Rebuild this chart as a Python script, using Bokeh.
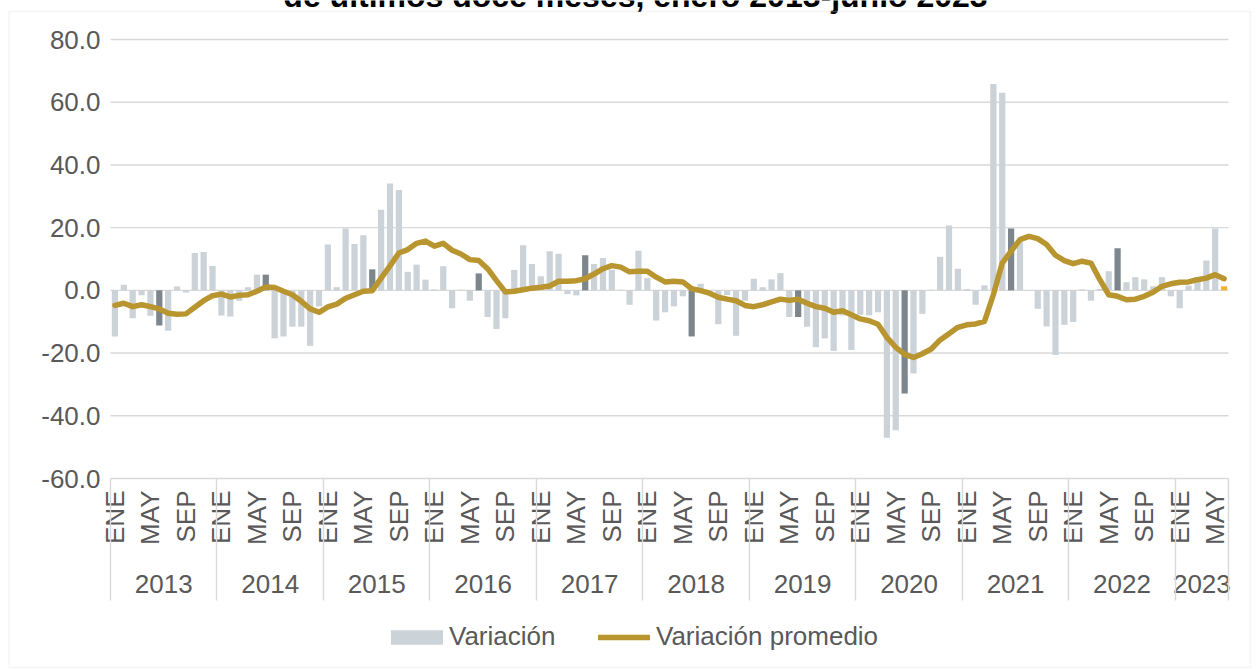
import math
from bokeh.plotting import figure
from bokeh.models import (LinearAxis, FixedTicker, PrintfTickFormatter, Legend, LegendItem,
                          BoxAnnotation, ColumnDataSource, Range1d)
from bokeh.core.properties import value
from bokeh.embed import file_html
from bokeh.resources import INLINE

# ---------------- data ----------------
years = [2013, 2014, 2015, 2016, 2017, 2018, 2019, 2020, 2021, 2022, 2023]
month_abbr = ["ENE", "FEB", "MAR", "ABR", "MAY", "JUN", "JUL", "AGO", "SEP", "OCT", "NOV", "DIC"]
shown_months = ["ENE", "MAY", "SEP"]

variacion_2013 = [-14.7, 1.8, -8.9, -1.6, -8.1, -11.2, -12.9, 1.2, -0.7, 11.9, 12.2, 7.8]
variacion_2014 = [-8.0, -8.3, -3.3, 1.0, 5.0, 5.0, -15.3, -14.7, -11.6, -11.6, -17.7, -5.1]
variacion_2015 = [14.6, 1.0, 19.7, 14.8, 17.6, 6.7, 25.7, 34.1, 32.0, 5.9, 8.2, 3.4]
variacion_2016 = [0.3, 7.7, -5.7, 0.2, -3.3, 5.4, -8.5, -12.3, -8.9, 6.5, 14.4, 8.4]
variacion_2017 = [4.5, 12.5, 11.7, -1.2, -1.6, 11.2, 8.4, 10.3, 6.6, 0.2, -4.6, 12.6]
variacion_2018 = [3.9, -9.6, -7.0, -5.1, -1.9, -14.7, 2.1, -1.0, -10.8, -1.5, -14.5, -3.3]
variacion_2019 = [3.7, 1.0, 3.5, 5.5, -8.5, -8.5, -11.6, -18.1, -15.3, -19.3, -8.0, -19.0]
variacion_2020 = [-7.8, -8.0, -7.0, -47.0, -44.6, -32.9, -26.5, -7.5, 0.2, 10.7, 20.7, 6.9]
variacion_2021 = [0.4, -4.6, 1.6, 65.8, 63.0, 19.7, 15.5, 0.1, -5.9, -11.5, -20.6, -11.0]
variacion_2022 = [-10.1, 0.3, -3.3, 0.5, 6.1, 13.4, 2.6, 4.2, 3.5, 1.3, 4.2, -1.9]
variacion_2023 = [-5.7, 1.5, 4.2, 9.5, 19.7, 1.3]

promedio_2013 = [-4.8, -4.1, -5.2, -4.6, -5.2, -5.9, -7.3, -7.6, -7.5, -5.4, -3.3, -1.7]
promedio_2014 = [-1.2, -2.1, -1.6, -1.4, -0.3, 1.1, 0.9, -0.3, -1.4, -3.5, -5.9, -7.0]
promedio_2015 = [-5.3, -4.4, -2.5, -1.4, -0.3, -0.1, 3.9, 7.8, 11.9, 13.0, 15.0, 15.7]
promedio_2016 = [14.1, 15.0, 12.8, 11.6, 9.8, 9.5, 6.9, 3.1, -0.5, -0.3, 0.2, 0.7]
promedio_2017 = [1.0, 1.4, 2.9, 2.9, 3.1, 3.7, 5.2, 6.9, 7.9, 7.4, 5.9, 6.1]
promedio_2018 = [6.1, 4.2, 2.7, 2.9, 2.7, 0.5, -0.1, -0.9, -2.2, -2.8, -3.3, -4.8]
promedio_2019 = [-5.2, -4.6, -3.7, -2.8, -3.2, -2.8, -4.1, -5.2, -5.7, -7.0, -6.5, -7.8]
promedio_2020 = [-9.1, -9.7, -10.8, -15.0, -18.2, -20.4, -21.4, -20.2, -18.7, -15.8, -13.8, -11.8]
promedio_2021 = [-11.0, -10.7, -9.9, -1.4, 8.7, 12.5, 16.2, 17.2, 16.5, 14.6, 11.2, 9.5]
promedio_2022 = [8.5, 9.3, 8.7, 3.4, -1.4, -1.9, -3.0, -2.8, -1.9, -0.6, 1.3, 2.1]
promedio_2023 = [2.6, 2.7, 3.4, 3.9, 5.0, 3.7]

variacion = (variacion_2013 + variacion_2014 + variacion_2015 + variacion_2016 + variacion_2017 +
             variacion_2018 + variacion_2019 + variacion_2020 + variacion_2021 + variacion_2022 +
             variacion_2023)
promedio = (promedio_2013 + promedio_2014 + promedio_2015 + promedio_2016 + promedio_2017 +
            promedio_2018 + promedio_2019 + promedio_2020 + promedio_2021 + promedio_2022 +
            promedio_2023)

y_ticks = [-60, -40, -20, 0, 20, 40, 60, 80]
title_text = "de últimos doce meses, enero 2013-junio 2023"

# ---------------- derived ----------------
n = len(variacion)
months = [(y, m) for y in years for m in month_abbr][:n]
xs = [i + 0.5 for i in range(n)]

LIGHT = "#cbd2d8"
DARK = "#7c868c"
LAST = "#f7b131"
LINE = "#b8952f"
TXT = "#595959"
GRID = "#d9d9d9"
FONT = "Liberation Sans"

colors = []
for i, (yy, mm) in enumerate(months):
    if i == n - 1:
        colors.append(LAST)
    elif mm == "JUN":
        colors.append(DARK)
    else:
        colors.append(LIGHT)

src = ColumnDataSource(dict(x=xs, top=variacion, color=colors, prom=promedio))

# ---------------- geometry (pixels of the page) ----------------
W, H = 1256, 668
PLOT_L, PLOT_R, PLOT_T, PLOT_B = 110, 1228, 39, 478
y_lo, y_hi = min(y_ticks), max(y_ticks)
PX_X = (PLOT_R - PLOT_L) / float(n)
PX_Y = (PLOT_B - PLOT_T) / float(y_hi - y_lo)


def dx(px):
    return (px - PLOT_L) / PX_X


def dy(py):
    return y_hi - (py - PLOT_T) / PX_Y


# the frame covers the whole canvas so that everything outside the plot box can be drawn
p = figure(width=W, height=H, output_backend="svg", toolbar_location=None,
           x_range=Range1d(dx(0), dx(W)), y_range=Range1d(dy(H), dy(0)),
           x_axis_location=None, y_axis_location=None, min_border=0)
p.outline_line_color = None
p.background_fill_color = "white"
p.border_fill_color = "white"
p.xgrid.visible = False
p.ygrid.visible = False

# horizontal gridlines across the plot box
p.segment(x0=[0] * len(y_ticks), x1=[n] * len(y_ticks), y0=y_ticks, y1=y_ticks,
          line_color=GRID, line_width=1.4)

bars = p.vbar(x="x", top="top", bottom=0, width=0.7, fill_color="color", line_color=None, source=src)
line = p.line(x="x", y="prom", line_width=5.5, line_color=LINE, line_join="round",
              line_cap="round", source=src)

# y axis
y_axis = LinearAxis(ticker=FixedTicker(ticks=y_ticks, minor_ticks=[]), fixed_location=0,
                    bounds=(y_lo, y_hi),
                    formatter=PrintfTickFormatter(format="%.1f"),
                    major_label_standoff=10,
                    major_tick_in=0, major_tick_out=0, major_tick_line_color=None,
                    minor_tick_line_color=None, axis_line_color=None,
                    major_label_text_font=FONT, major_label_text_font_size="26px",
                    major_label_text_color=TXT)
p.add_layout(y_axis, "left")

# month axis, year axis, year separators
month_ticks = [xs[i] for i, (yy, mm) in enumerate(months) if mm in shown_months]
month_over = {xs[i]: mm for i, (yy, mm) in enumerate(months) if mm in shown_months}
year_bounds = []
year_centers = []
year_over = {}
for yy in years:
    idx = [i for i, (a, b) in enumerate(months) if a == yy]
    year_bounds.append(idx[0])
    c = (idx[0] + idx[-1] + 1) / 2
    year_centers.append(c)
    year_over[c] = str(yy)
year_bounds.append(n)

month_axis = LinearAxis(ticker=FixedTicker(ticks=month_ticks, minor_ticks=[]),
                        fixed_location=y_lo, bounds=(0, n),
                        major_label_overrides=month_over,
                        major_label_orientation=math.pi / 2,
                        major_label_standoff=12,
                        major_tick_in=0, major_tick_out=0, major_tick_line_color=None,
                        minor_tick_line_color=None, axis_line_color=None,
                        major_label_text_font=FONT, major_label_text_font_size="26px",
                        major_label_text_color=TXT)
p.add_layout(month_axis, "below")

year_axis = LinearAxis(ticker=FixedTicker(ticks=year_centers, minor_ticks=[]),
                       fixed_location=y_lo, bounds=(0, n),
                       major_label_overrides=year_over,
                       major_label_standoff=96,
                       major_tick_in=0, major_tick_out=0, major_tick_line_color=None,
                       minor_tick_line_color=None, axis_line_color=None,
                       major_label_text_font=FONT, major_label_text_font_size="26px",
                       major_label_text_color=TXT)
p.add_layout(year_axis, "below")

sep_axis = LinearAxis(ticker=FixedTicker(ticks=year_bounds, minor_ticks=[]),
                      fixed_location=y_lo, bounds=(0, n),
                      major_label_overrides={b: "" for b in year_bounds},
                      major_tick_in=0, major_tick_out=122,
                      major_tick_line_color=GRID, major_tick_line_width=1.4,
                      minor_tick_line_color=None, axis_line_color=None,
                      major_label_text_alpha=0)
p.add_layout(sep_axis, "below")

# legend (two parts so that the box and the line get their own widths)
legend_style = dict(orientation="horizontal", padding=0, margin=0,
                    label_text_font=FONT, label_text_font_size="26px", label_text_color=TXT,
                    border_line_color=None, background_fill_alpha=0)
legend_bars = Legend(items=[LegendItem(label="Variación", renderers=[bars])],
                     location=(384, 16), glyph_width=65, glyph_height=18,
                     label_standoff=0, **legend_style)
legend_line = Legend(items=[LegendItem(label="Variación promedio", renderers=[line])],
                     location=(598, 16), glyph_width=52, glyph_height=18,
                     label_standoff=6, **legend_style)
p.add_layout(legend_bars, "center")
p.add_layout(legend_line, "center")

# title (only its lower part shows at the top of the page, as in the reference)
title_src = ColumnDataSource(dict(x=[dx(635)], y=[dy(-5)], text=[title_text]))
p.text(x="x", y="y", text="text", source=title_src, text_align="center",
       text_baseline="alphabetic", text_font=value(FONT), text_font_size="32px",
       text_font_style="bold", text_color="black")

# outer chart border
p.add_layout(BoxAnnotation(left=dx(8.5), right=dx(1250), top=dy(11), bottom=dy(667),
                           fill_alpha=0, line_color=GRID, line_width=1.4))

open("out.html", "w").write(file_html(p, INLINE))
